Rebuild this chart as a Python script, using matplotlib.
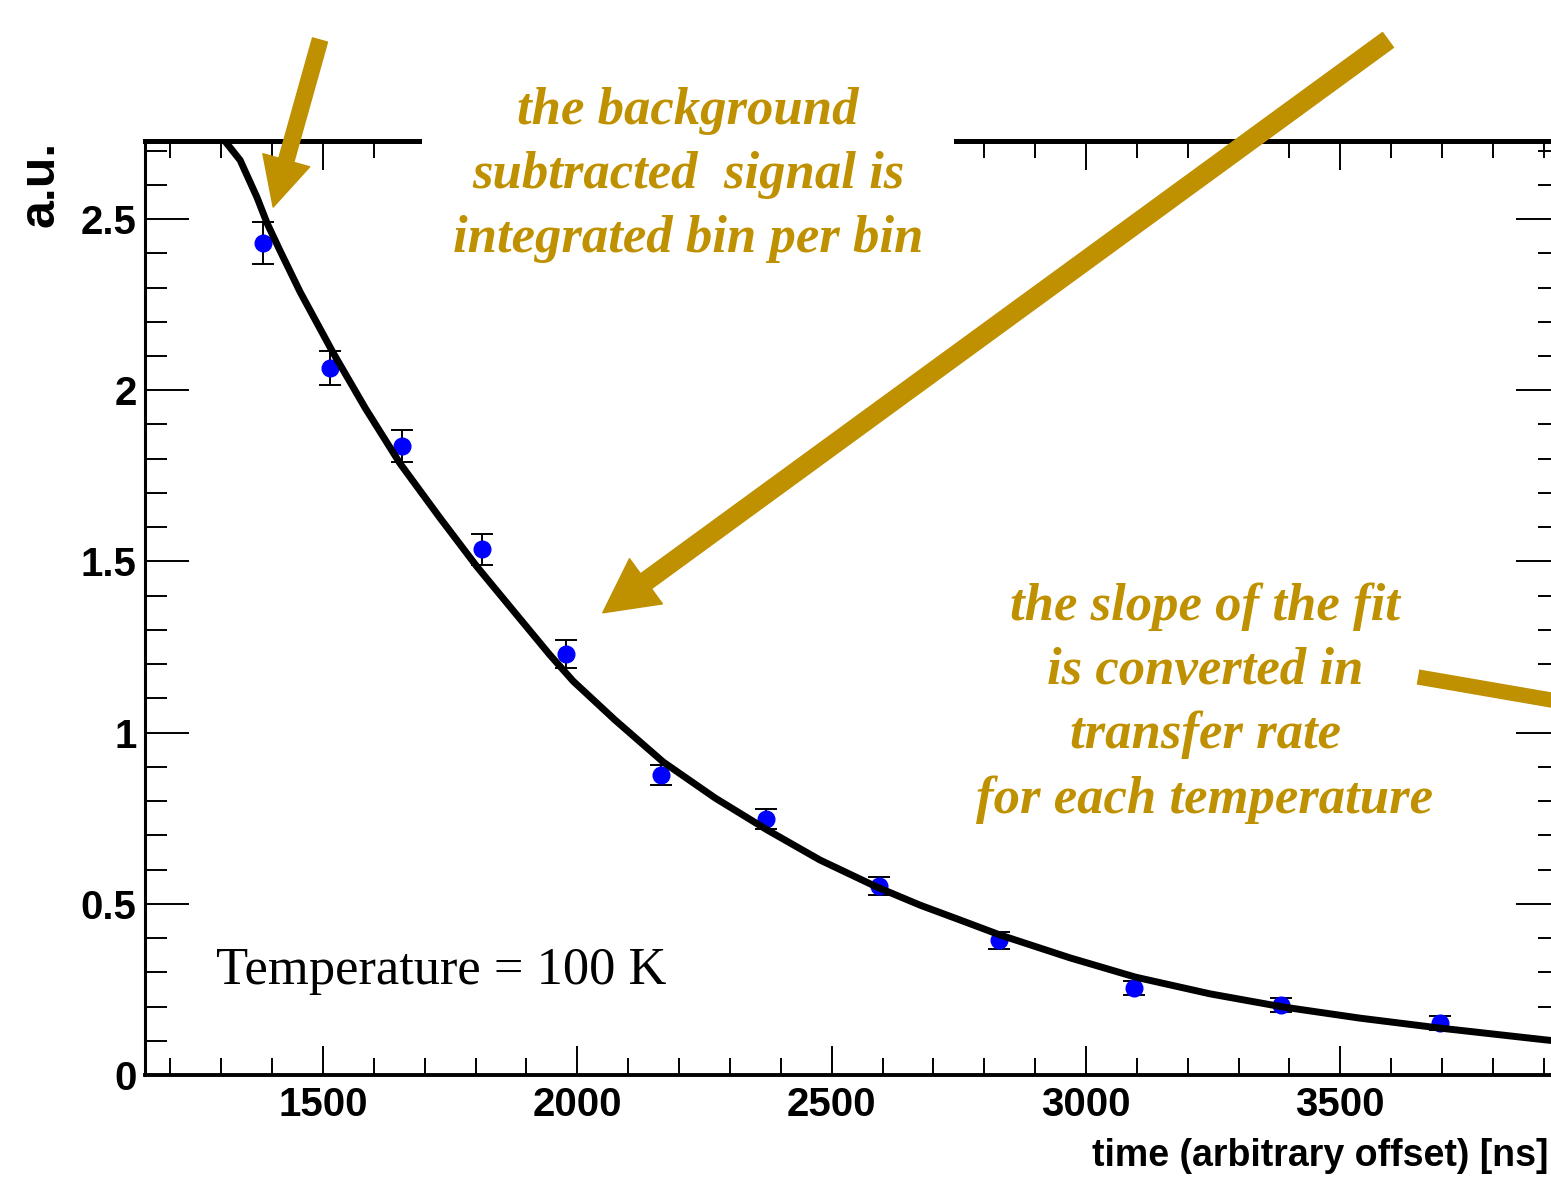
import matplotlib
matplotlib.use('Agg')
import matplotlib.pyplot as plt
from matplotlib import font_manager
from matplotlib.ticker import MultipleLocator, FuncFormatter

# data
times = [1382, 1514, 1655, 1813, 1978, 2165, 2371, 2593, 2829, 3095, 3384, 3696]
signal = [2.43, 2.065, 1.837, 1.536, 1.23, 0.876, 0.748, 0.552, 0.394, 0.254, 0.204, 0.152]
errors = [0.06, 0.05, 0.047, 0.045, 0.04, 0.03, 0.03, 0.025, 0.025, 0.02, 0.02, 0.02]

# fit curve, read point by point
fit_t = [1300, 1307, 1337, 1370, 1390, 1415, 1455, 1520, 1583, 1651, 1730, 1803, 1878,
         1946, 1992, 2074, 2169, 2271, 2373, 2477, 2589, 2674, 2752, 2831, 2969, 3097,
         3244, 3386, 3539, 3696, 3907, 3935]
fit_y = [2.76, 2.728, 2.672, 2.564, 2.488, 2.409, 2.287, 2.109, 1.948, 1.787, 1.627, 1.484, 1.349,
         1.227, 1.150, 1.037, 0.914, 0.809, 0.716, 0.628, 0.549, 0.496, 0.453, 0.409, 0.342, 0.286,
         0.237, 0.199, 0.166, 0.137, 0.102, 0.098]

x_ticks = [1500, 2000, 2500, 3000, 3500]
y_ticks = [0, 0.5, 1, 1.5, 2, 2.5]

gold = '#BF9000'
W, H = 1551, 1188

names = {f.name for f in font_manager.fontManager.ttflist}
if 'Liberation Sans Narrow' in names:
    tick_font, tick_size = 'Liberation Sans Narrow', 34
else:
    tick_font, tick_size = 'Liberation Sans', 29

fig = plt.figure(figsize=(W / 100, H / 100), dpi=100)
ax = fig.add_axes([145 / W, (H - 1075) / H, (1560 - 145) / W, (1075 - 141) / H])

ax.errorbar(times, signal, yerr=errors, fmt='o', color='#0000FF', ms=12,
            ecolor='black', elinewidth=1.4, capsize=8, capthick=1.4, zorder=3)
ax.plot(fit_t, fit_y, color='black', lw=5, zorder=4)

ax.set_xlim(1150, 3932)
ax.set_ylim(0, 2.728)
ax.set_xticks(x_ticks)
ax.set_yticks(y_ticks)
ax.xaxis.set_minor_locator(MultipleLocator(100))
ax.yaxis.set_minor_locator(MultipleLocator(0.1))
ax.yaxis.set_major_formatter(FuncFormatter(lambda v, p: '%g' % v))
ax.xaxis.set_major_formatter(FuncFormatter(lambda v, p: '%d' % v))

ax.tick_params(axis='x', which='both', direction='in', top=True, bottom=True, width=1.4, pad=8)
ax.tick_params(axis='x', which='major', length=21)
ax.tick_params(axis='x', which='minor', length=12)
ax.tick_params(axis='y', which='both', direction='in', left=True, right=True, width=1.4, pad=6)
ax.tick_params(axis='y', which='major', length=32)
ax.tick_params(axis='y', which='minor', length=16)
for lab in ax.get_xticklabels() + ax.get_yticklabels():
    lab.set_fontfamily(tick_font)
    lab.set_fontweight('bold')
    lab.set_fontsize(tick_size)

ax.spines['top'].set_linewidth(3.6)
ax.spines['bottom'].set_linewidth(2.8)
ax.spines['left'].set_linewidth(2.2)
ax.spines['right'].set_linewidth(2.2)

ax.set_xlabel('time (arbitrary offset) [ns]', loc='right', fontfamily=tick_font,
              fontweight='bold', fontsize=tick_size - 2)
ax.xaxis.set_label_coords((1549 - 145) / 1415, (1075 - 1138) / 934)
ax.set_ylabel('a.u.', loc='top', fontfamily=tick_font, fontweight='bold', fontsize=36)
ax.yaxis.set_label_coords((64 - 145) / 1415, 1.0)

ax.text(1290, 0.305, 'Temperature = 100 K', fontfamily='Liberation Serif', fontsize=37.8,
        ha='left', va='center', color='black')

# annotations
ann_style = dict(fontfamily='Liberation Serif', fontweight='bold', fontstyle='italic',
                 fontsize=38, color=gold, ha='center', va='center', linespacing=1.43)
fig.text(688 / W, 1 - 175 / H, 'the background\nsubtracted  signal is\nintegrated bin per bin',
         bbox=dict(facecolor='white', edgecolor='none', pad=22), zorder=5, **ann_style)
fig.text(1205 / W, 1 - 703 / H, 'the slope of the fit\nis converted in\ntransfer rate\nfor each temperature',
         **ann_style)

arrow = dict(arrowstyle='simple,head_length=1.0,head_width=1.0,tail_width=0.32',
             mutation_scale=35, color=gold, shrinkA=0, shrinkB=0)
ax.annotate('', xy=(1402, 2.535), xytext=(320, H - 40), textcoords='figure pixels',
            arrowprops=arrow, annotation_clip=False, zorder=6)
arrow2 = dict(arrowstyle='simple,head_length=1.1,head_width=1.15,tail_width=0.38',
              mutation_scale=35, color=gold, shrinkA=0, shrinkB=0)
ax.annotate('', xy=(2050, 1.35), xytext=(1388, H - 40), textcoords='figure pixels',
            arrowprops=arrow2, annotation_clip=False, zorder=6)
ax.annotate('', xy=(1580, H - 705), xytext=(1418, H - 677), xycoords='figure pixels',
            textcoords='figure pixels',
            arrowprops=dict(arrowstyle='-', lw=11, color=gold, shrinkA=0, shrinkB=0,
                            capstyle='butt'),
            annotation_clip=False, zorder=6)

plt.savefig('out.png', dpi=100)
